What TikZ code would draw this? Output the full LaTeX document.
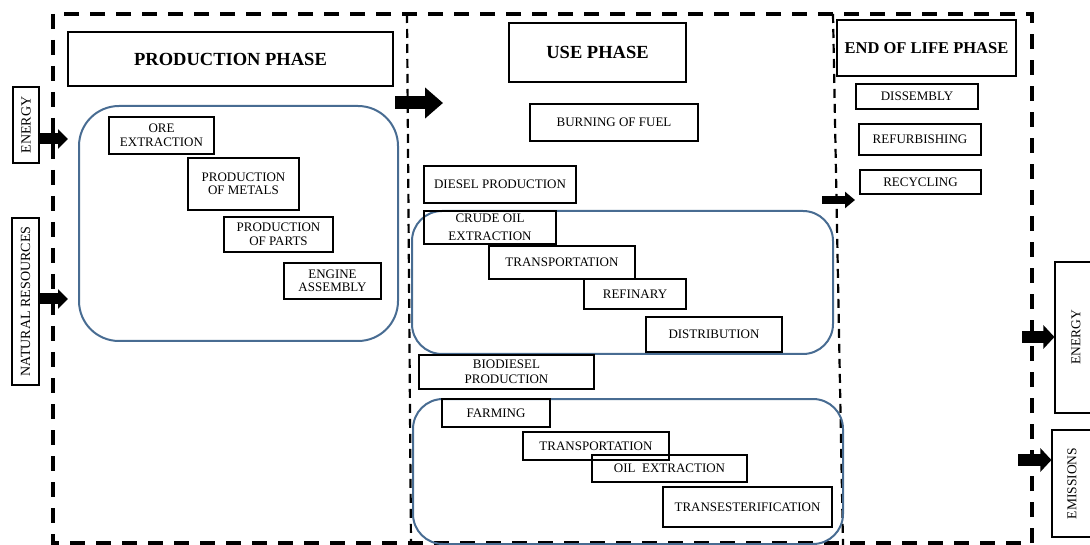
\documentclass[tikz,border=0pt]{standalone}
\usepackage{fontspec}
\setmainfont{Liberation Serif}
\usetikzlibrary{arrows.meta}
\definecolor{clusterblue}{RGB}{72,108,146}

\tikzset{
  stepbox/.style={draw, line width=1.8pt, inner sep=0pt, align=center,
    font=\fontsize{13}{13.5}\selectfont},
  phasebox/.style={draw, line width=2.4pt, inner sep=0pt,
    font=\bfseries\fontsize{18.5}{20}\selectfont},
  inbox/.style={draw, line width=1.8pt, inner sep=0pt, rotate=90,
    font=\fontsize{14}{15}\selectfont},
  outbox/.style={draw, line width=1.1pt, inner sep=0pt, rotate=90,
    font=\fontsize{13.5}{15}\selectfont},
  cluster/.style={draw=clusterblue, line width=2pt, rounded corners=#1},
  frame/.style={line width=4.5pt, dash pattern=on 15pt off 11pt},
  divider/.style={line width=2.2pt, dash pattern=on 9pt off 6pt},
  fatflow/.style n args={3}{line width=#1, -{Triangle[length=#2, width=#3]}}
}

\begin{document}
\begin{tikzpicture}[x=1pt, y=-1pt]
\useasboundingbox (0,0) rectangle (1090,545);

% system boundary and phase dividers
\draw[frame] (53,14) rectangle (1032,543);
\draw[divider] (407,14) -- (411,545);
\draw[divider] (833,14) -- (843,545);

% ---------- production phase ----------
\node[phasebox, minimum width=325pt, minimum height=54pt] (prodTitle) at (230.5,59) {PRODUCTION PHASE};
\draw[cluster=40pt] (79,106) rectangle (398,341);
\node[stepbox, minimum width=105pt, minimum height=37pt] (ore) at (161.5,135.5) {ORE\\EXTRACTION};
\node[stepbox, minimum width=111pt, minimum height=52pt] (metals) at (243.5,184) {PRODUCTION\\OF METALS};
\node[stepbox, minimum width=109pt, minimum height=35pt] (parts) at (278.5,234.5) {PRODUCTION\\OF PARTS};
\node[stepbox, minimum width=97pt, minimum height=36pt] (engine) at (332.5,281) {ENGINE\\ASSEMBLY};

% ---------- use phase ----------
\node[phasebox, minimum width=177pt, minimum height=59pt] (useTitle) at (597.5,52.5) {USE PHASE};
\node[stepbox, minimum width=168pt, minimum height=37pt] (burning) at (614,122.5) {BURNING OF FUEL};
\node[stepbox, minimum width=152pt, minimum height=37pt] (diesel) at (500,184.5) {DIESEL PRODUCTION};

\draw[cluster=30pt] (412,211) rectangle (833,354);
\node[stepbox, minimum width=132pt, minimum height=33pt, font=\fontsize{13}{18.5}\selectfont] (crude) at (490,227.5) {CRUDE OIL\\EXTRACTION};
\node[stepbox, minimum width=146pt, minimum height=33pt] (transA) at (562,262.5) {TRANSPORTATION};
\node[stepbox, minimum width=102pt, minimum height=30pt] (refinary) at (635,294) {REFINARY};
\node[stepbox, minimum width=136pt, minimum height=35pt] (distrib) at (714,334.5) {DISTRIBUTION};

\node[stepbox, minimum width=175pt, minimum height=34pt, font=\fontsize{13}{15}\selectfont] (biodiesel) at (506.5,372) {BIODIESEL\\PRODUCTION};

\draw[cluster=30pt] (413,399) rectangle (843,544);
\node[stepbox, minimum width=108pt, minimum height=28pt] (farming) at (496,413) {FARMING};
\node[stepbox, minimum width=146pt, minimum height=28pt] (transB) at (596,446) {TRANSPORTATION};
\node[stepbox, minimum width=155pt, minimum height=27pt] (oilext) at (669.5,468.5) {OIL\ \ EXTRACTION};
\node[stepbox, minimum width=169pt, minimum height=40pt] (transest) at (747.5,507) {TRANSESTERIFICATION};

% ---------- end of life phase ----------
\node[phasebox, minimum width=179pt, minimum height=56pt, font=\bfseries\fontsize{16.5}{18}\selectfont] (eolTitle) at (926.5,48) {END OF LIFE PHASE};
\node[stepbox, minimum width=122pt, minimum height=25pt] (dissembly) at (917,96.5) {DISSEMBLY};
\node[stepbox, minimum width=122pt, minimum height=31pt] (refurb) at (920,139.5) {REFURBISHING};
\node[stepbox, minimum width=121pt, minimum height=24pt] (recycling) at (920.5,182) {RECYCLING};

% ---------- inputs ----------
\node[inbox, minimum width=76pt, minimum height=26pt] (energyIn) at (26,125) {ENERGY};
\node[inbox, minimum width=167pt, minimum height=27pt] (natres) at (25.5,301.5) {NATURAL RESOURCES};

% ---------- outputs ----------
\node[outbox, minimum width=151pt, minimum height=42pt] (energyOut) at (1076,337.5) {ENERGY};
\node[outbox, minimum width=107pt, minimum height=40pt] (emissions) at (1072,483.5) {EMISSIONS};

% ---------- flow arrows ----------
\coordinate (energyTip) at (68,139);
\coordinate (resTip) at (68,299);
\coordinate (prodOut) at (395,103);
\coordinate (useIn) at (443,103);
\coordinate (useOut) at (822,200);
\coordinate (eolIn) at (855,200);
\coordinate (energyTail) at (1022,337);
\coordinate (emisTail) at (1018,460);

\draw[fatflow={11pt}{10pt}{19pt}] (energyIn.south |- energyTip) -- (energyTip);
\draw[fatflow={11pt}{10pt}{19pt}] (natres.south |- resTip) -- (resTip);
\draw[fatflow={13pt}{18pt}{30pt}] (prodOut) -- (useIn);
\draw[fatflow={8pt}{10pt}{16pt}] (useOut) -- (eolIn);
\draw[fatflow={12pt}{11pt}{23pt}] (energyTail) -- (energyOut.north |- energyTail);
\draw[fatflow={12pt}{11pt}{23pt}] (emisTail) -- (emissions.north |- emisTail);
\end{tikzpicture}
\end{document}
